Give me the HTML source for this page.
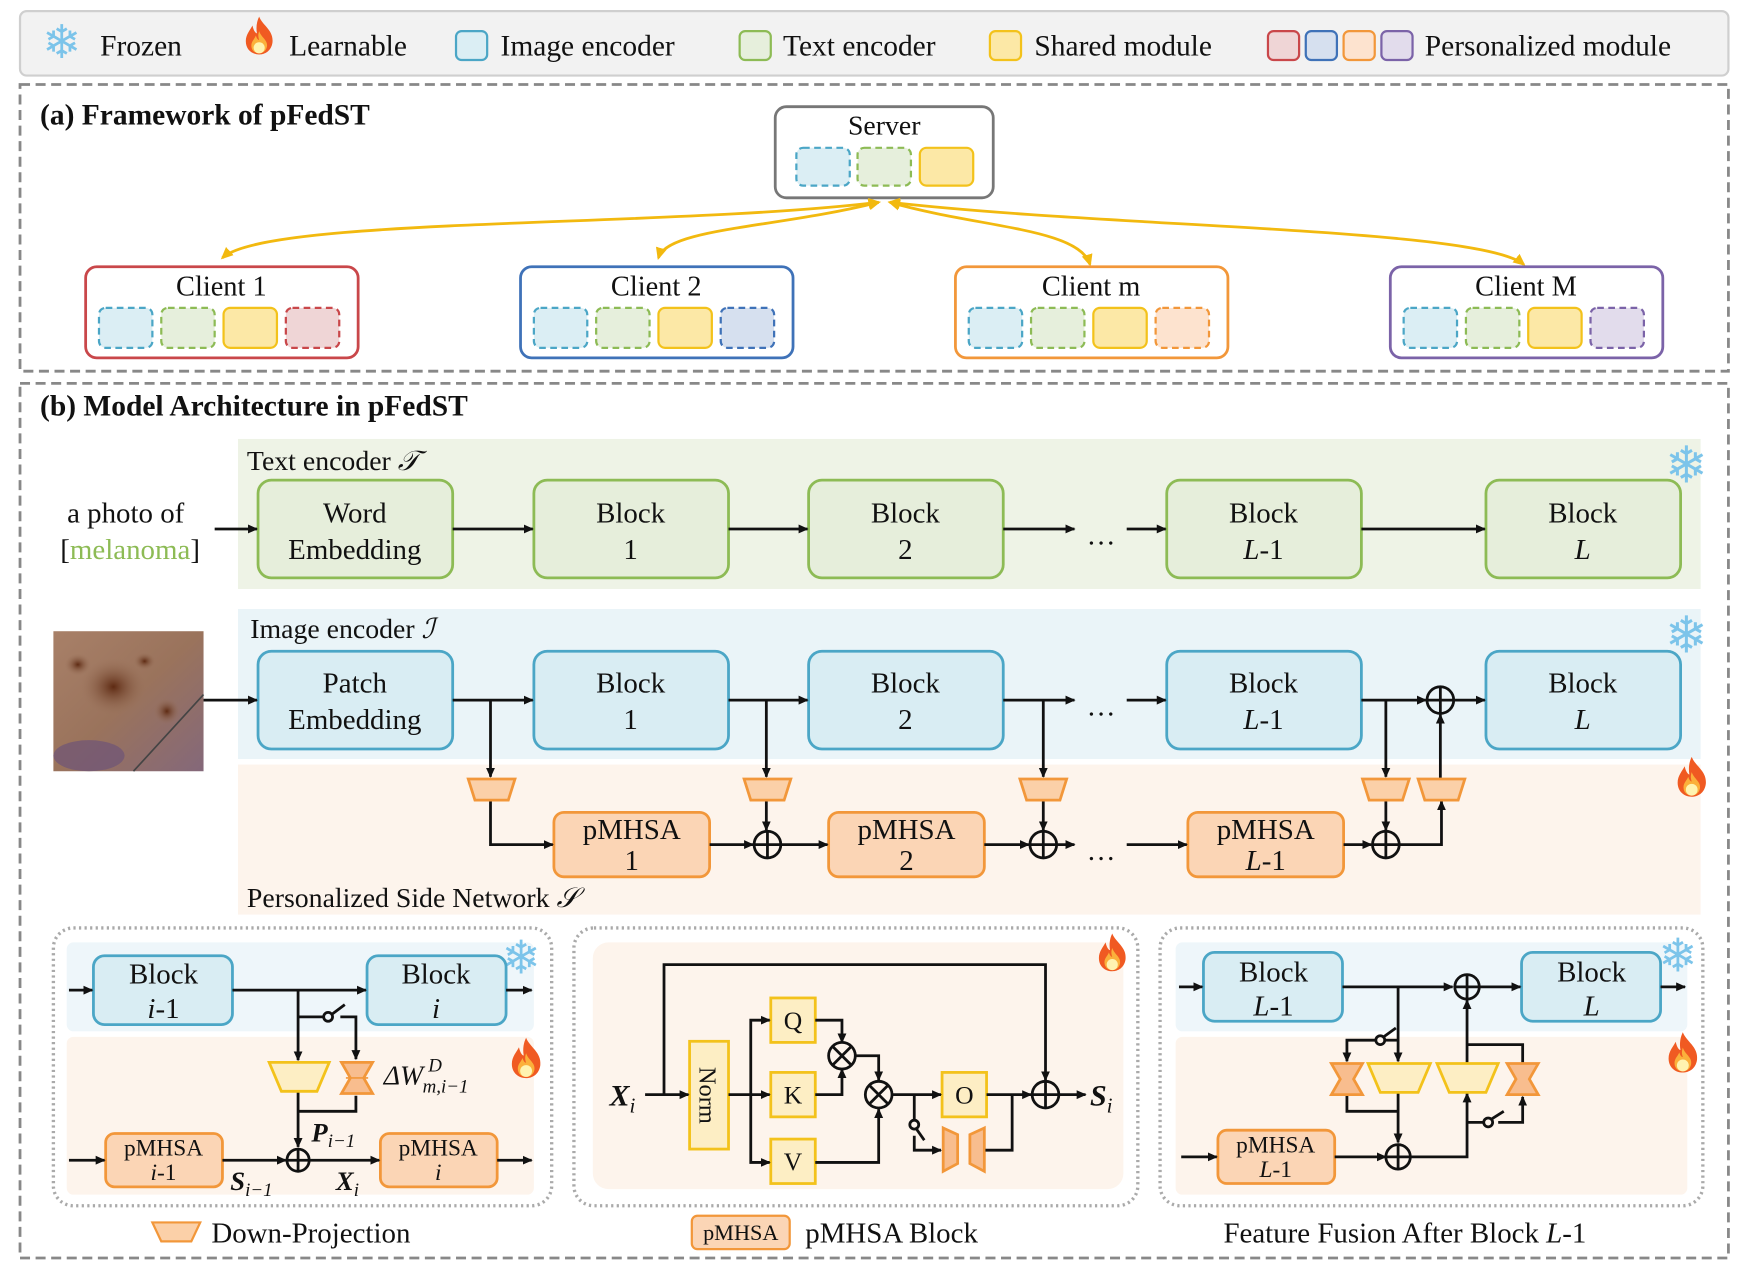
<!DOCTYPE html>
<html><head><meta charset="utf-8"><style>
html,body{margin:0;padding:0;background:#fff}
svg{display:block}
text{font-family:"Liberation Serif",serif;fill:#111}
</style></head><body>
<svg width="1744" height="1278" viewBox="0 0 1568 1150" preserveAspectRatio="none" xmlns="http://www.w3.org/2000/svg">
<defs>
<marker id="a" markerWidth="10" markerHeight="10" refX="8" refY="5" orient="auto" markerUnits="userSpaceOnUse"><path d="M0,1 L9,5 L0,9 z" fill="#111"/></marker>
<marker id="y" markerWidth="12" markerHeight="12" refX="9" refY="6" orient="auto-start-reverse" markerUnits="userSpaceOnUse"><path d="M0,1 L11,6 L0,11 z" fill="#f2b90f"/></marker>
<symbol id="fire" viewBox="0 0 30 36"><path d="M15,1 C18,9 28,13 27,24 C26,32 20,35 15,35 C9,35 3,31 3,23 C3,17 7,13 9,9 C10,14 12,16 13,16 C12,10 13,5 15,1z" fill="#f05a22"/><path d="M15,14 C17,20 23,22 22,28 C21,33 17,34 15,34 C12,34 8,32 8,27 C8,23 11,21 12,18 C13,21 14,22 15,22 C14,19 14,17 15,14z" fill="#fbb03b"/><ellipse cx="15" cy="29" rx="5" ry="5" fill="#fff3b0"/></symbol>
<linearGradient id="skin" x1="0" y1="0" x2="1" y2="1"><stop offset="0" stop-color="#a88068"/><stop offset="0.5" stop-color="#9a735c"/><stop offset="1" stop-color="#84687a"/></linearGradient>
<radialGradient id="mole" cx="0.5" cy="0.5" r="0.5"><stop offset="0" stop-color="#5e2a12"/><stop offset="1" stop-color="#9a735c" stop-opacity="0"/></radialGradient>
</defs>

<!-- Legend -->
<rect x="18" y="10" width="1536" height="58" rx="6" fill="#f2f2f2" stroke="#cfcfcf" stroke-width="2"/>
<text x="38" y="52" font-size="42" style="fill:#7cc4ea">❄</text>
<text x="90" y="50" font-size="26.5">Frozen</text>
<use href="#fire" x="218" y="14" width="30" height="36"/>
<text x="260" y="50" font-size="26.5">Learnable</text>
<rect x="410" y="28" width="28" height="26" rx="5" fill="#dbeef4" stroke="#4ba6c6" stroke-width="2"/>
<text x="450" y="50" font-size="26.5">Image encoder</text>
<rect x="665" y="28" width="28" height="26" rx="5" fill="#e6efdc" stroke="#8dbb55" stroke-width="2"/>
<text x="704" y="50" font-size="26.5">Text encoder</text>
<rect x="890" y="28" width="28" height="26" rx="5" fill="#fce8a6" stroke="#f3c21b" stroke-width="2"/>
<text x="930" y="50" font-size="26.5">Shared module</text>
<rect x="1140" y="28" width="28" height="26" rx="5" fill="#efd5d6" stroke="#c9474a" stroke-width="2"/>
<rect x="1174" y="28" width="28" height="26" rx="5" fill="#d6e0ef" stroke="#3f72b8" stroke-width="2"/>
<rect x="1208" y="28" width="28" height="26" rx="5" fill="#fde3cf" stroke="#f2973a" stroke-width="2"/>
<rect x="1242" y="28" width="28" height="26" rx="5" fill="#e2dcec" stroke="#7b63a8" stroke-width="2"/>
<text x="1281" y="50" font-size="26.5">Personalized module</text>

<!-- Panel a -->
<rect x="18" y="76" width="1536" height="258" fill="none" stroke="#888" stroke-width="2.5" stroke-dasharray="9,5"/>
<text x="36" y="112" font-size="26.5" font-weight="bold">(a) Framework of pFedST</text>
<rect x="697" y="96" width="196" height="82" rx="10" fill="#fff" stroke="#777" stroke-width="2.5"/>
<text x="795" y="121" font-size="25" text-anchor="middle">Server</text>
<rect x="716" y="133" width="48" height="34" rx="6" fill="#dbeef4" stroke="#4ba6c6" stroke-width="2" stroke-dasharray="6,4"/>
<rect x="771" y="133" width="48" height="34" rx="6" fill="#e6efdc" stroke="#8dbb55" stroke-width="2" stroke-dasharray="6,4"/>
<rect x="827" y="133" width="48" height="34" rx="6" fill="#fce8a6" stroke="#f3c21b" stroke-width="2"/>
<g fill="none" stroke="#f2b90f" stroke-width="2.5">
<path d="M200,232 C240,195 600,205 790,182" marker-start="url(#y)" marker-end="url(#y)"/>
<path d="M592,232 C600,205 700,205 790,182" marker-start="url(#y)" marker-end="url(#y)"/>
<path d="M980,238 C970,205 880,205 800,182" marker-start="url(#y)" marker-end="url(#y)"/>
<path d="M1370,238 C1330,205 1000,205 800,182" marker-start="url(#y)" marker-end="url(#y)"/>
</g>
<g font-size="25.5" text-anchor="middle">
<rect x="77" y="240" width="245" height="82" rx="10" fill="#fff" stroke="#c9474a" stroke-width="2.5"/><text x="199" y="266">Client 1</text>
<rect x="468" y="240" width="245" height="82" rx="10" fill="#fff" stroke="#3f72b8" stroke-width="2.5"/><text x="590" y="266">Client 2</text>
<rect x="859" y="240" width="245" height="82" rx="10" fill="#fff" stroke="#f2973a" stroke-width="2.5"/><text x="981" y="266">Client m</text>
<rect x="1250" y="240" width="245" height="82" rx="10" fill="#fff" stroke="#7b63a8" stroke-width="2.5"/><text x="1372" y="266">Client M</text>
</g>
<g stroke-width="2">
<g transform="translate(77,0)"><rect x="12" y="277" width="48" height="36" rx="6" fill="#dbeef4" stroke="#4ba6c6" stroke-dasharray="6,4"/><rect x="68" y="277" width="48" height="36" rx="6" fill="#e6efdc" stroke="#8dbb55" stroke-dasharray="6,4"/><rect x="124" y="277" width="48" height="36" rx="6" fill="#fce8a6" stroke="#f3c21b"/><rect x="180" y="277" width="48" height="36" rx="6" fill="#efd5d6" stroke="#c9474a" stroke-dasharray="6,4"/></g>
<g transform="translate(468,0)"><rect x="12" y="277" width="48" height="36" rx="6" fill="#dbeef4" stroke="#4ba6c6" stroke-dasharray="6,4"/><rect x="68" y="277" width="48" height="36" rx="6" fill="#e6efdc" stroke="#8dbb55" stroke-dasharray="6,4"/><rect x="124" y="277" width="48" height="36" rx="6" fill="#fce8a6" stroke="#f3c21b"/><rect x="180" y="277" width="48" height="36" rx="6" fill="#d6e0ef" stroke="#3f72b8" stroke-dasharray="6,4"/></g>
<g transform="translate(859,0)"><rect x="12" y="277" width="48" height="36" rx="6" fill="#dbeef4" stroke="#4ba6c6" stroke-dasharray="6,4"/><rect x="68" y="277" width="48" height="36" rx="6" fill="#e6efdc" stroke="#8dbb55" stroke-dasharray="6,4"/><rect x="124" y="277" width="48" height="36" rx="6" fill="#fce8a6" stroke="#f3c21b"/><rect x="180" y="277" width="48" height="36" rx="6" fill="#fde3cf" stroke="#f2973a" stroke-dasharray="6,4"/></g>
<g transform="translate(1250,0)"><rect x="12" y="277" width="48" height="36" rx="6" fill="#dbeef4" stroke="#4ba6c6" stroke-dasharray="6,4"/><rect x="68" y="277" width="48" height="36" rx="6" fill="#e6efdc" stroke="#8dbb55" stroke-dasharray="6,4"/><rect x="124" y="277" width="48" height="36" rx="6" fill="#fce8a6" stroke="#f3c21b"/><rect x="180" y="277" width="48" height="36" rx="6" fill="#e2dcec" stroke="#7b63a8" stroke-dasharray="6,4"/></g>
</g>

<!-- Panel b -->
<rect x="18" y="345" width="1536" height="787" fill="none" stroke="#888" stroke-width="2.5" stroke-dasharray="9,5"/>
<text x="36" y="374" font-size="26.5" font-weight="bold">(b) Model Architecture in pFedST</text>

<rect x="214" y="395" width="1315" height="135" fill="#eef3e6"/>
<rect x="214" y="548" width="1315" height="135" fill="#eaf4f8"/>
<rect x="214" y="688" width="1315" height="135" fill="#fdf4ec"/>
<text x="222" y="423" font-size="25">Text encoder <tspan font-style="italic">𝒯</tspan></text>
<text x="225" y="574" font-size="25">Image encoder <tspan font-style="italic">ℐ</tspan></text>
<text x="222" y="816" font-size="25">Personalized Side Network <tspan font-style="italic">𝒮</tspan></text>
<text x="1497" y="434" font-size="46" style="fill:#7cc4ea">❄</text>
<text x="1497" y="587" font-size="46" style="fill:#7cc4ea">❄</text>
<use href="#fire" x="1505" y="680" width="32" height="38"/>

<text x="113" y="470" font-size="26" text-anchor="middle">a photo of</text>
<text x="117" y="503" font-size="26" text-anchor="middle">[<tspan style="fill:#8dbb55">melanoma</tspan>]</text>

<g font-size="26" text-anchor="middle">
<g fill="#e6eedb" stroke="#8dbb55" stroke-width="2.5">
<rect x="232" y="432" width="175" height="88" rx="12"/><rect x="480" y="432" width="175" height="88" rx="12"/><rect x="727" y="432" width="175" height="88" rx="12"/><rect x="1049" y="432" width="175" height="88" rx="12"/><rect x="1336" y="432" width="175" height="88" rx="12"/>
</g>
<text x="319" y="470">Word</text><text x="319" y="503">Embedding</text>
<text x="567" y="470">Block</text><text x="567" y="503">1</text>
<text x="814" y="470">Block</text><text x="814" y="503">2</text>
<text x="1136" y="470">Block</text><text x="1136" y="503"><tspan font-style="italic">L</tspan>-1</text>
<text x="1423" y="470">Block</text><text x="1423" y="503" font-style="italic">L</text>
<text x="990" y="490">…</text>

<g fill="#d9edf3" stroke="#4ba6c6" stroke-width="2.5">
<rect x="232" y="586" width="175" height="88" rx="12"/><rect x="480" y="586" width="175" height="88" rx="12"/><rect x="727" y="586" width="175" height="88" rx="12"/><rect x="1049" y="586" width="175" height="88" rx="12"/><rect x="1336" y="586" width="175" height="88" rx="12"/>
</g>
<text x="319" y="623">Patch</text><text x="319" y="656">Embedding</text>
<text x="567" y="623">Block</text><text x="567" y="656">1</text>
<text x="814" y="623">Block</text><text x="814" y="656">2</text>
<text x="1136" y="623">Block</text><text x="1136" y="656"><tspan font-style="italic">L</tspan>-1</text>
<text x="1423" y="623">Block</text><text x="1423" y="656" font-style="italic">L</text>
<text x="990" y="644">…</text>

<g fill="#fbd5b5" stroke="#f2973a" stroke-width="2.5">
<rect x="498" y="731" width="140" height="58" rx="9"/><rect x="745" y="731" width="140" height="58" rx="9"/><rect x="1068" y="731" width="140" height="58" rx="9"/>
</g>
<text x="568" y="755">pMHSA</text><text x="568" y="783">1</text>
<text x="815" y="755">pMHSA</text><text x="815" y="783">2</text>
<text x="1138" y="755">pMHSA</text><text x="1138" y="783"><tspan font-style="italic">L</tspan>-1</text>
<text x="990" y="774">…</text>
</g>

<!-- skin image -->
<rect x="48" y="568" width="135" height="126" fill="url(#skin)"/>
<ellipse cx="102" cy="618" rx="30" ry="26" fill="url(#mole)"/>
<ellipse cx="70" cy="598" rx="12" ry="10" fill="url(#mole)"/>
<ellipse cx="150" cy="640" rx="12" ry="12" fill="url(#mole)"/>
<ellipse cx="130" cy="595" rx="10" ry="8" fill="url(#mole)"/>
<ellipse cx="80" cy="680" rx="32" ry="14" fill="#6d5478" opacity="0.7"/>
<line x1="120" y1="694" x2="183" y2="625" stroke="#444" stroke-width="1.5"/>

<g fill="none" stroke="#111" stroke-width="2.5">
<line x1="193" y1="476" x2="231" y2="476" marker-end="url(#a)"/>
<line x1="407" y1="476" x2="479" y2="476" marker-end="url(#a)"/>
<line x1="655" y1="476" x2="726" y2="476" marker-end="url(#a)"/>
<line x1="902" y1="476" x2="966" y2="476" marker-end="url(#a)"/>
<line x1="1013" y1="476" x2="1048" y2="476" marker-end="url(#a)"/>
<line x1="1224" y1="476" x2="1335" y2="476" marker-end="url(#a)"/>

<line x1="183" y1="630" x2="231" y2="630" marker-end="url(#a)"/>
<line x1="407" y1="630" x2="479" y2="630" marker-end="url(#a)"/>
<line x1="655" y1="630" x2="726" y2="630" marker-end="url(#a)"/>
<line x1="902" y1="630" x2="966" y2="630" marker-end="url(#a)"/>
<line x1="1013" y1="630" x2="1048" y2="630" marker-end="url(#a)"/>
<line x1="1224" y1="630" x2="1282" y2="630" marker-end="url(#a)"/>
<line x1="1307" y1="630" x2="1335" y2="630" marker-end="url(#a)"/>
<circle cx="1295" cy="630" r="12"/><path d="M1283,630 H1307 M1295,618 V642"/>
<line x1="441" y1="630" x2="441" y2="699" marker-end="url(#a)"/>
<line x1="689" y1="630" x2="689" y2="699" marker-end="url(#a)"/>
<line x1="938" y1="630" x2="938" y2="699" marker-end="url(#a)"/>
<line x1="1246" y1="630" x2="1246" y2="699" marker-end="url(#a)"/>

<path d="M441,720 V760 H497" marker-end="url(#a)"/>
<line x1="638" y1="760" x2="677" y2="760" marker-end="url(#a)"/>
<line x1="689" y1="720" x2="689" y2="747" marker-end="url(#a)"/>
<line x1="702" y1="760" x2="744" y2="760" marker-end="url(#a)"/>
<circle cx="690" cy="760" r="12"/><path d="M678,760 H702 M690,748 V772"/>
<line x1="885" y1="760" x2="925" y2="760" marker-end="url(#a)"/>
<line x1="938" y1="720" x2="938" y2="747" marker-end="url(#a)"/>
<circle cx="938" cy="760" r="12"/><path d="M926,760 H950 M938,748 V772"/>
<line x1="950" y1="760" x2="966" y2="760" marker-end="url(#a)"/>
<line x1="1013" y1="760" x2="1067" y2="760" marker-end="url(#a)"/>
<line x1="1208" y1="760" x2="1233" y2="760" marker-end="url(#a)"/>
<line x1="1246" y1="720" x2="1246" y2="747" marker-end="url(#a)"/>
<circle cx="1246" cy="760" r="12"/><path d="M1234,760 H1258 M1246,748 V772"/>
<path d="M1258,760 H1296 V721" marker-end="url(#a)"/>
<line x1="1295" y1="700" x2="1295" y2="643" marker-end="url(#a)"/>
</g>
<g fill="#fbd0a8" stroke="#f2973a" stroke-width="2.5">
<path d="M421,701 H463 L457,720 H427 Z"/><path d="M669,701 H711 L705,720 H675 Z"/><path d="M917,701 H959 L953,720 H923 Z"/><path d="M1225,701 H1267 L1261,720 H1231 Z"/><path d="M1275,701 H1317 L1311,720 H1281 Z"/>
</g>

<!-- Sub-panels -->
<g fill="none" stroke="#aaa" stroke-width="3" stroke-dasharray="2,3">
<rect x="48" y="835" width="448" height="250" rx="18"/>
<rect x="516" y="835" width="507" height="250" rx="18"/>
<rect x="1043" y="835" width="488" height="250" rx="18"/>
</g>
<!-- sub1 -->
<rect x="60" y="848" width="420" height="80" rx="6" fill="#eef6fa"/>
<rect x="60" y="933" width="420" height="142" rx="6" fill="#fdf4ec"/>
<text x="451" y="876" font-size="42" style="fill:#7cc4ea">❄</text>
<use href="#fire" x="457" y="932" width="32" height="40"/>
<g fill="#d9edf3" stroke="#4ba6c6" stroke-width="2.5"><rect x="84" y="860" width="125" height="62" rx="10"/><rect x="330" y="860" width="125" height="62" rx="10"/></g>
<g font-size="26" text-anchor="middle"><text x="147" y="885">Block</text><text x="147" y="916"><tspan font-style="italic">i</tspan>-1</text><text x="392" y="885">Block</text><text x="392" y="916" font-style="italic">i</text></g>
<g fill="#fbd5b5" stroke="#f2973a" stroke-width="2.5"><rect x="95" y="1020" width="105" height="48" rx="8"/><rect x="342" y="1020" width="105" height="48" rx="8"/></g>
<g font-size="21" text-anchor="middle"><text x="147" y="1040">pMHSA</text><text x="147" y="1062"><tspan font-style="italic">i</tspan>-1</text><text x="394" y="1040">pMHSA</text><text x="394" y="1062" font-style="italic">i</text></g>
<g fill="none" stroke="#111" stroke-width="2.5">
<line x1="62" y1="891" x2="83" y2="891" marker-end="url(#a)"/>
<line x1="209" y1="891" x2="329" y2="891" marker-end="url(#a)"/>
<line x1="455" y1="891" x2="478" y2="891" marker-end="url(#a)"/>
<line x1="268" y1="891" x2="268" y2="954" marker-end="url(#a)"/>
<path d="M268,915 H291"/><circle cx="295" cy="915" r="4"/><path d="M298,913 L310,904"/><path d="M306,915 H320 V953" marker-end="url(#a)"/>
<path d="M268,982 V1032" marker-end="url(#a)"/>
<path d="M320,986 V1000 H268"/>
<line x1="62" y1="1044" x2="94" y2="1044" marker-end="url(#a)"/>
<line x1="200" y1="1044" x2="257" y2="1044" marker-end="url(#a)"/>
<line x1="279" y1="1044" x2="341" y2="1044" marker-end="url(#a)"/>
<line x1="447" y1="1044" x2="478" y2="1044" marker-end="url(#a)"/>
<circle cx="268" cy="1044" r="10"/><path d="M258,1044 H278 M268,1034 V1054"/>
</g>
<path d="M242,956 H296 L285,982 H253 Z" fill="#fdeec4" stroke="#f3c21b" stroke-width="2.5"/>
<path d="M307,956 H335 L327,970 L335,984 H307 L315,970 Z" fill="#f8bd8e" stroke="#f2973a" stroke-width="2.5"/>
<line x1="311" y1="970" x2="331" y2="970" stroke="#f2973a" stroke-width="1.5"/>
<text x="345" y="976" font-size="25" font-style="italic">ΔW</text>
<text x="385" y="964" font-size="17" font-style="italic">D</text>
<text x="380" y="983" font-size="17" font-style="italic">m,i−1</text>
<text x="280" y="1027" font-size="24" font-weight="bold" font-style="italic">P<tspan font-size="17" font-weight="normal" dy="5">i−1</tspan></text>
<text x="207" y="1071" font-size="24" font-weight="bold" font-style="italic">S<tspan font-size="17" font-weight="normal" dy="5">i−1</tspan></text>
<text x="302" y="1071" font-size="24" font-weight="bold" font-style="italic">X<tspan font-size="17" font-weight="normal" dy="5">i</tspan></text>

<!-- sub2 -->
<rect x="533" y="848" width="477" height="222" rx="14" fill="#fdf4ec"/>
<use href="#fire" x="985" y="838" width="30" height="38"/>
<g fill="#fdeec4" stroke="#f3c21b" stroke-width="2.5">
<rect x="620" y="937" width="35" height="97"/>
<rect x="693" y="898" width="40" height="40"/><rect x="693" y="965" width="40" height="40"/><rect x="693" y="1025" width="40" height="40"/>
<rect x="847" y="965" width="40" height="40"/>
</g>
<text x="0" y="0" font-size="22" transform="translate(629,960) rotate(90)">Norm</text>
<g font-size="23" text-anchor="middle"><text x="713" y="926">Q</text><text x="713" y="993">K</text><text x="713" y="1053">V</text><text x="867" y="993">O</text></g>
<path d="M848,1015 L861,1021 V1047 L848,1054 Z M885,1015 L872,1021 V1047 L885,1054 Z" fill="#f8bd8e" stroke="#f2973a" stroke-width="2.5"/>
<g fill="none" stroke="#111" stroke-width="2.5">
<path d="M580,985 H619" marker-end="url(#a)"/>
<path d="M597,985 V868 H940 V972" marker-end="url(#a)"/>
<path d="M655,985 H692" marker-end="url(#a)"/>
<path d="M675,985 V918 H692" marker-end="url(#a)"/>
<path d="M675,985 V1046 H692" marker-end="url(#a)"/>
<path d="M733,918 H757 V938" marker-end="url(#a)"/>
<path d="M733,985 H757 V962" marker-end="url(#a)"/>
<circle cx="757" cy="950" r="12"/><path d="M749,942 L765,958 M765,942 L749,958"/>
<path d="M769,950 H790 V972" marker-end="url(#a)"/>
<path d="M733,1046 H790 V998" marker-end="url(#a)"/>
<circle cx="790" cy="985" r="12"/><path d="M782,977 L798,993 M798,977 L782,993"/>
<path d="M802,985 H846" marker-end="url(#a)"/>
<path d="M822,985 V1008"/><circle cx="822" cy="1012" r="4"/><path d="M824,1016 L831,1026"/>
<path d="M822,1022 V1035 H846" marker-end="url(#a)"/>
<path d="M887,985 H927" marker-end="url(#a)"/>
<path d="M886,1035 H910 V985"/>
<circle cx="940" cy="985" r="12"/><path d="M928,985 H952 M940,973 V997"/>
<path d="M952,985 H976" marker-end="url(#a)"/>
</g>
<text x="548" y="995" font-size="27" font-weight="bold" font-style="italic">X<tspan font-size="19" font-weight="normal" dy="6">i</tspan></text>
<text x="980" y="995" font-size="27" font-weight="bold" font-style="italic">S<tspan font-size="19" font-weight="normal" dy="6">i</tspan></text>

<!-- sub3 -->
<rect x="1057" y="848" width="460" height="80" rx="6" fill="#eef6fa"/>
<rect x="1057" y="933" width="460" height="142" rx="6" fill="#fdf4ec"/>
<text x="1491" y="874" font-size="42" style="fill:#7cc4ea">❄</text>
<use href="#fire" x="1497" y="927" width="32" height="40"/>
<g fill="#d9edf3" stroke="#4ba6c6" stroke-width="2.5"><rect x="1082" y="857" width="125" height="62" rx="10"/><rect x="1368" y="857" width="125" height="62" rx="10"/></g>
<g font-size="26" text-anchor="middle"><text x="1145" y="883">Block</text><text x="1145" y="914"><tspan font-style="italic">L</tspan>-1</text><text x="1431" y="883">Block</text><text x="1431" y="914" font-style="italic">L</text></g>
<rect x="1095" y="1017" width="105" height="48" rx="8" fill="#fbd5b5" stroke="#f2973a" stroke-width="2.5"/>
<g font-size="21" text-anchor="middle"><text x="1147" y="1037">pMHSA</text><text x="1147" y="1059"><tspan font-style="italic">L</tspan>-1</text></g>
<g fill="none" stroke="#111" stroke-width="2.5">
<line x1="1060" y1="888" x2="1081" y2="888" marker-end="url(#a)"/>
<line x1="1207" y1="888" x2="1306" y2="888" marker-end="url(#a)"/>
<line x1="1331" y1="888" x2="1367" y2="888" marker-end="url(#a)"/>
<line x1="1493" y1="888" x2="1515" y2="888" marker-end="url(#a)"/>
<circle cx="1319" cy="888" r="11"/><path d="M1308,888 H1330 M1319,877 V899"/>
<path d="M1257,888 V955" marker-end="url(#a)"/>
<path d="M1257,936 H1245"/><circle cx="1241" cy="936" r="4"/><path d="M1244,933 L1255,925"/><path d="M1237,936 H1211 V955" marker-end="url(#a)"/>
<path d="M1257,983 V1028" marker-end="url(#a)"/>
<path d="M1211,985 V1000 H1257"/>
<line x1="1062" y1="1041" x2="1094" y2="1041" marker-end="url(#a)"/>
<line x1="1200" y1="1041" x2="1246" y2="1041" marker-end="url(#a)"/>
<circle cx="1257" cy="1041" r="11"/><path d="M1246,1041 H1268 M1257,1030 V1052"/>
<path d="M1268,1041 H1319 V984" marker-end="url(#a)"/>
<path d="M1319,1010 H1334"/><circle cx="1338" cy="1010" r="4"/><path d="M1341,1007 L1352,1000"/><path d="M1347,1010 H1369 V987" marker-end="url(#a)"/>
<path d="M1319,956 V900" marker-end="url(#a)"/>
<path d="M1319,940 H1369 V956"/>
</g>
<path d="M1230,957 H1286 L1275,983 H1241 Z" fill="#fdeec4" stroke="#f3c21b" stroke-width="2.5"/>
<path d="M1292,957 H1347 L1336,983 H1303 Z" fill="#fdeec4" stroke="#f3c21b" stroke-width="2.5"/>
<path d="M1197,957 H1225 L1217,971 L1225,985 H1197 L1205,971 Z" fill="#f8bd8e" stroke="#f2973a" stroke-width="2.5"/>
<path d="M1355,957 H1383 L1375,971 L1383,985 H1355 L1363,971 Z" fill="#f8bd8e" stroke="#f2973a" stroke-width="2.5"/>

<!-- captions -->
<path d="M137,1100 H180 L172,1117 H145 Z" fill="#fbd0a8" stroke="#f2973a" stroke-width="2"/>
<text x="190" y="1118" font-size="26">Down-Projection</text>
<rect x="622" y="1094" width="88" height="30" rx="5" fill="#fbd5b5" stroke="#f2973a" stroke-width="2"/>
<text x="666" y="1116" font-size="20" text-anchor="middle">pMHSA</text>
<text x="724" y="1118" font-size="26">pMHSA Block</text>
<text x="1100" y="1118" font-size="26">Feature Fusion After Block <tspan font-style="italic">L</tspan>-1</text>
</svg>
</body></html>
